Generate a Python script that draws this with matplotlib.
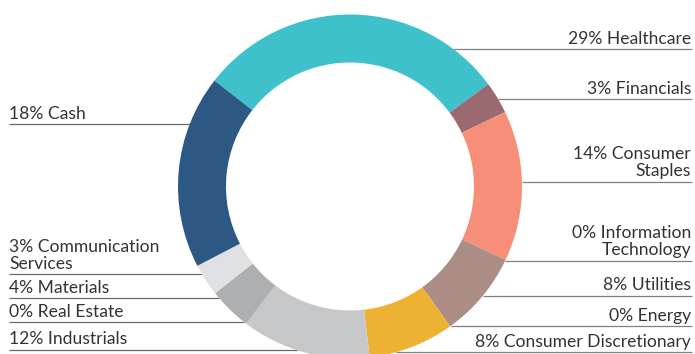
import matplotlib
matplotlib.use("Agg")
import matplotlib.pyplot as plt
import numpy as np

# ---- data ----
sectors = ["Healthcare", "Financials", "Consumer Staples", "Information Technology",
           "Utilities", "Energy", "Consumer Discretionary", "Industrials",
           "Real Estate", "Materials", "Communication Services", "Cash"]
weights = [29, 3, 14, 0, 8, 0, 8, 12, 0, 4, 3, 18]
label_texts = ["29% Healthcare", "3% Financials", "14% Consumer\nStaples",
               "0% Information\nTechnology", "8% Utilities", "0% Energy",
               "8% Consumer Discretionary", "12% Industrials", "0% Real Estate",
               "4% Materials", "3% Communication\nServices", "18% Cash"]

# ---- style / layout ----
colors = ["#3EC1CB", "#9B6A70", "#F78E77", "#F78E77", "#AB8D85", "#AB8D85",
          "#EDB134", "#C6C7C9", "#C6C7C9", "#AEAFB1", "#E0E1E3", "#2D5883"]
sides = ["R", "R", "R", "R", "R", "R", "R", "L", "L", "L", "L", "L"]
line_y_px = [49, 99.3, 181.5, 261, 295.7, 326, 352.3, 350, 322.3, 298.3, 274.3, 124.3]

W, H = 695, 354
cx, cy = 350, H - 186.5
R_out, ring_w = 172, 48

fig = plt.figure(figsize=(W / 100, H / 100), dpi=100)
ax = fig.add_axes([0, 0, 1, 1])
ax.pie(weights, colors=colors, startangle=142, counterclock=False,
       center=(cx, cy), radius=R_out,
       wedgeprops=dict(width=ring_w, linewidth=0))
ax.set_xlim(0, W)
ax.set_ylim(0, H)
ax.set_aspect("equal")
ax.axis("off")

font = dict(family=["Lato", "DejaVu Sans"], fontsize=12.6, color="#333333", fontweight="normal")
for txt, side, ypx in zip(label_texts, sides, line_y_px):
    y = H - ypx
    dy = y - cy
    half = np.sqrt(max(R_out ** 2 - dy ** 2, 0))
    if side == "R":
        x0, x1 = cx + half, 692
        ax.plot([x0, x1], [y, y], color="#808080", lw=0.9, zorder=0, solid_capstyle="butt")
        ax.text(691, y + 2.5, txt, ha="right", va="bottom", multialignment="right",
                linespacing=1.1, **font)
    else:
        x0, x1 = 9, cx - half
        ax.plot([x0, x1], [y, y], color="#6a6a6a", lw=0.9, zorder=0, solid_capstyle="butt")
        ax.text(9, y + 2.5, txt, ha="left", va="bottom", multialignment="left",
                linespacing=1.1, **font)

fig.savefig("out.png", dpi=100)
